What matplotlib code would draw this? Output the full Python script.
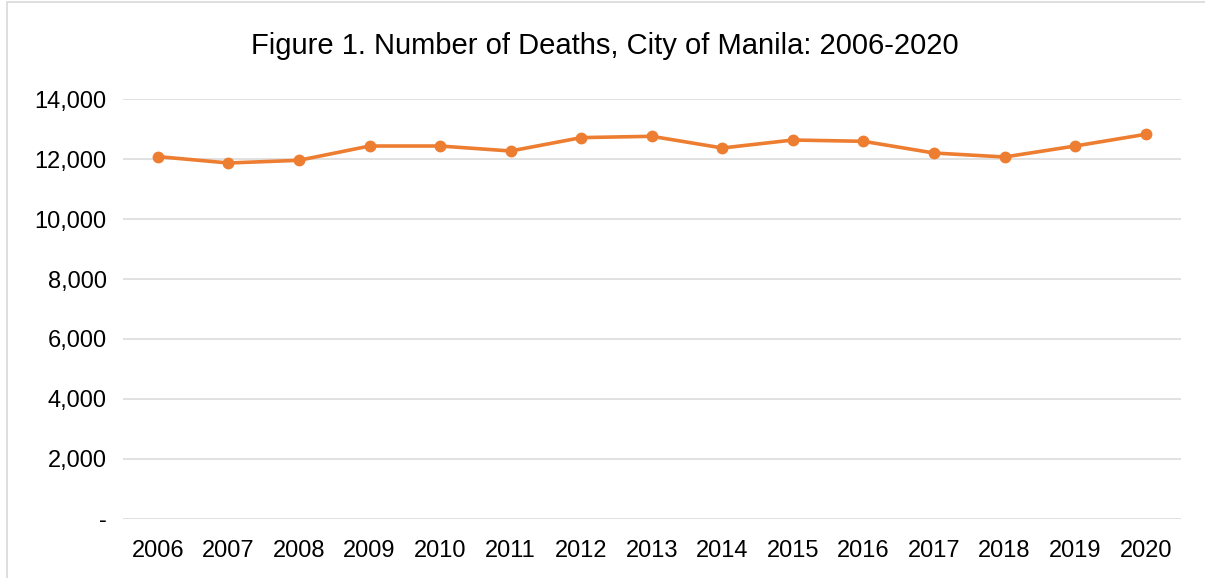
import matplotlib
matplotlib.use("Agg")
import matplotlib.pyplot as plt
from matplotlib.patches import Rectangle
from matplotlib.ticker import FuncFormatter

years = ["2006", "2007", "2008", "2009", "2010", "2011", "2012", "2013",
         "2014", "2015", "2016", "2017", "2018", "2019", "2020"]
deaths = [12080, 11867, 11957, 12433, 12433, 12267, 12713, 12757,
          12367, 12633, 12590, 12200, 12067, 12433, 12823]
y_ticks = [0, 2000, 4000, 6000, 8000, 10000, 12000, 14000]

plt.rcParams["font.family"] = ["Liberation Sans", "DejaVu Sans"]

fig = plt.figure(figsize=(12.05, 5.78), dpi=100)
ax = fig.add_axes([0.1018, 0.1021, 0.8782, 0.7266])

x = list(range(len(years)))
ax.plot(x, deaths, color="#ED7D31", linewidth=2.6, marker="o", markersize=7.5, zorder=3)

ax.set_xlim(-0.5, len(years) - 0.5)
ax.set_ylim(0, 14000)
ax.set_xticks(x)
ax.set_xticklabels(years)
ax.set_yticks(y_ticks)
ax.yaxis.set_major_formatter(FuncFormatter(lambda v, p: "-" if v == 0 else f"{int(v):,}"))

ax.grid(axis="y", color="#D9D9D9", linewidth=1.1)
ax.set_axisbelow(True)
for s in ax.spines.values():
    s.set_visible(False)
ax.tick_params(axis="both", length=0, labelsize=17, colors="black")
ax.tick_params(axis="x", pad=15)
ax.tick_params(axis="y", pad=11.5)

fig.text(0.502, 0.921, "Figure 1. Number of Deaths, City of Manila: 2006-2020",
         fontsize=21, ha="center", va="center")

# light frame round the chart
fig.patches.append(Rectangle((0.0058, -0.01), 1.1, 1.006, transform=fig.transFigure,
                             fill=False, edgecolor="#D9D9D9", linewidth=1.2))

fig.savefig("out.png", dpi=100)
